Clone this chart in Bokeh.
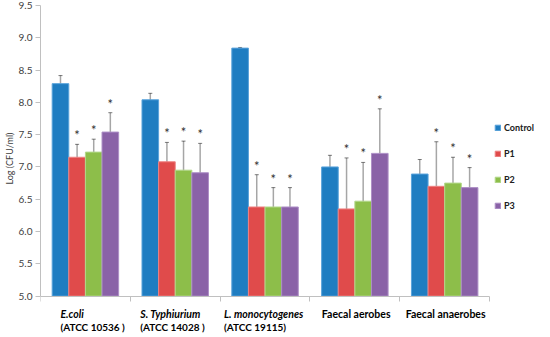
from bokeh.plotting import figure
from bokeh.models import (ColumnDataSource, Range1d, FixedTicker, LinearAxis, Title,
                          Whisker, TeeHead, Label, Legend, LegendItem)
from bokeh.transform import dodge
from bokeh.core.properties import value
from bokeh.embed import file_html
from bokeh.resources import INLINE

categories = ["E.coli", "S. Typhiurium", "L. monocytogenes", "Faecal  aerobes", "Faecal anaerobes"]
sublabels = ["(ATCC 10536 )", "(ATCC 14028 )", "(ATCC 19115)", "", ""]
series = ["Control", "P1", "P2", "P3"]

control = [8.29, 8.04, 8.84, 7.00, 6.89]
control_err = [0.125, 0.10, 0.01, 0.18, 0.225]
p1 = [7.15, 7.08, 6.38, 6.35, 6.70]
p1_err = [0.20, 0.30, 0.50, 0.79, 0.69]
p2 = [7.23, 6.95, 6.38, 6.47, 6.75]
p2_err = [0.20, 0.45, 0.30, 0.60, 0.40]
p3 = [7.54, 6.91, 6.38, 7.21, 6.68]
p3_err = [0.30, 0.455, 0.30, 0.69, 0.31]
starred = [False, True, True, True]

y_ticks = [5.0, 5.5, 6.0, 6.5, 7.0, 7.5, 8.0, 8.5, 9.0, 9.5]
y_min, y_max = 5.0, 9.5
y_label = "Log (CFU/ml)"

colors = ["#1F7DC1", "#E04B4B", "#8DBE4A", "#8A62A7"]
edges = ["#5AA3DB", "#EE8383", "#B3D88A", "#AD8FC6"]
offsets = [-0.2775, -0.0925, 0.0925, 0.2775]
bar_w = 0.185
font = "Lato"

n = len(categories)
xc = [i + 0.5 for i in range(n)]  # category slot centres

p = figure(width=534, height=335, x_range=Range1d(0, n + 0.5),
           y_range=Range1d(4.39, y_max), output_backend="svg", toolbar_location=None,
           x_axis_location=None,
           min_border_left=20, min_border_right=0, min_border_top=5, min_border_bottom=0)
p.outline_line_color = None
p.xgrid.visible = False
p.ygrid.visible = False

xax = LinearAxis(fixed_location=y_min, bounds=(0, n),
                 ticker=FixedTicker(ticks=list(range(n + 1))),
                 major_label_overrides={i: "" for i in range(n + 1)},
                 major_label_text_font_size="0px", major_label_standoff=0,
                 axis_line_color="#C0C0C0", major_tick_line_color="#C0C0C0",
                 major_tick_out=5, major_tick_in=0, minor_tick_line_color=None)
p.add_layout(xax, "below")

yax = p.yaxis[0]
yax.bounds = (y_min, y_max)
yax.ticker = FixedTicker(ticks=y_ticks)
yax.major_label_overrides = {t: f"{t:.1f}" for t in y_ticks}
yax.axis_line_color = "#C0C0C0"
yax.major_tick_line_color = "#C0C0C0"
yax.major_tick_out = 5
yax.major_tick_in = 0
yax.minor_tick_line_color = None
yax.major_label_text_font = font
yax.major_label_text_font_size = "10px"
yax.major_label_text_color = "#404040"
yax.major_label_standoff = 3

p.add_layout(Title(text=y_label, align="left", offset=151, standoff=2,
                   text_font=font, text_font_size="9px", text_font_style="normal",
                   text_color="#404040"), "left")

vals = [control, p1, p2, p3]
errs = [control_err, p1_err, p2_err, p3_err]
items = []
for name, v, e, c, ec, off, st in zip(series, vals, errs, colors, edges, offsets, starred):
    src = ColumnDataSource(dict(xc=xc, v=v,
                                lo=[a - b for a, b in zip(v, e)],
                                hi=[a + b for a, b in zip(v, e)],
                                star=["*" if st else ""] * n))
    r = p.vbar(x=dodge("xc", off), top="v", bottom=y_min, width=bar_w,
               source=src, fill_color=c, line_color=ec, line_width=1)
    items.append(LegendItem(label=name, renderers=[r]))
    w = Whisker(base=dodge("xc", off), upper="hi", lower="lo", source=src,
                line_color="#000000", line_alpha=0.35, line_width=1.5,
                upper_head=TeeHead(size=4, line_color="#000000", line_alpha=0.5, line_width=1),
                lower_head=TeeHead(size=4, line_color="#000000", line_alpha=0.5, line_width=1))
    p.add_layout(w)
    p.text(x=dodge("xc", off), y="hi", text="star", source=src,
           text_font=value(font), text_font_size="13px", text_color="#303030",
           text_align="center", text_baseline="middle", y_offset=-9)

legend = Legend(items=items, location=(454, 124), orientation="vertical",
                label_text_font=font, label_text_font_size="9px", label_text_font_style="bold",
                label_text_color="#202020",
                glyph_width=7, glyph_height=7, label_height=12, spacing=14, padding=0, margin=0,
                border_line_color=None, background_fill_alpha=0, label_standoff=3)
p.add_layout(legend, "center")

line1_offsets = [-25, -35, -41, -33, -39]
for x, cat, sub, xo in zip(xc, categories, sublabels, line1_offsets):
    italic = sub != ""
    p.add_layout(Label(x=x, y=y_min, text=cat, x_offset=xo, y_offset=-17.5,
                       text_font=font, text_font_size="10.5px",
                       text_font_style="bold italic" if italic else "bold",
                       text_align="left", text_baseline="middle", text_color="#000000"))
    if sub:
        p.add_layout(Label(x=x, y=y_min, text=sub, x_offset=xo, y_offset=-31,
                           text_font=font, text_font_size="10px", text_font_style="bold",
                           text_align="left", text_baseline="middle", text_color="#000000"))

open("out.html", "w").write(file_html(p, INLINE))
